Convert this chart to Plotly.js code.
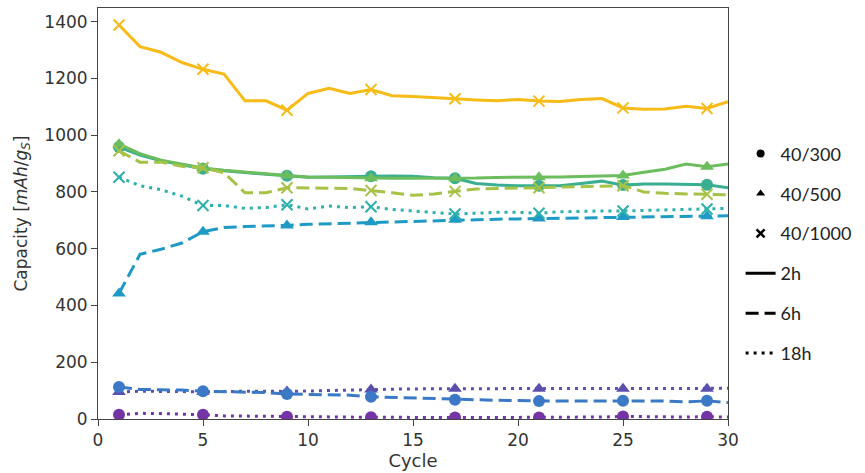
<!DOCTYPE html>
<html>
<head>
<meta charset="utf-8">
<script src="https://cdn.plot.ly/plotly-3.0.1.min.js"></script>
<style>html,body{margin:0;padding:0;background:#fff;}#chart{width:865px;height:473px;}</style>
</head>
<body>
<div id="chart"></div>
<script>
const cycles = [1,2,3,4,5,6,7,8,9,10,11,12,13,14,15,16,17,18,19,20,21,22,23,24,25,26,27,28,29,30];

const s300_18h = [15,20,19,18,15,11,10,9,8,7,7,6,6,6,5,5,5,5,5,5,5,5,6,7,9,8,7,7,8,7];
const s500_18h = [95,98,97,96,96,97,98,98,97,99,100,101,104,105,106,107,107,107,107,107,107,107,107,107,107,107,107,108,107,108];
const s300_6h  = [113,104,103,102,98,96,95,93,88,86,85,84,78,76,74,72,68,67,66,65,63,63,63,63,64,64,63,60,64,58];
const s500_6h  = [442,580,598,620,660,675,678,679,682,686,688,690,693,696,698,700,702,703,704,705,706,708,709,710,712,712,713,713,714,716];
const s1000_18h = [852,822,808,785,752,752,742,745,755,740,750,745,748,738,733,728,722,725,728,728,725,730,732,733,733,735,737,738,740,742];
const s300_2h  = [958,930,910,895,882,875,868,862,857,852,853,855,855,856,855,850,848,830,824,822,822,822,830,838,824,828,828,827,825,815];
const s500_2h  = [968,935,912,897,884,876,869,864,858,853,852,850,848,848,848,848,848,849,851,851,852,853,854,856,858,869,880,898,889,898];
const s1000_6h = [945,905,905,890,885,868,797,797,815,815,813,812,805,797,788,793,802,810,812,814,815,817,818,820,822,800,795,793,792,790];
const s1000_2h = [1388,1312,1292,1256,1232,1215,1121,1121,1088,1147,1165,1147,1161,1139,1136,1131,1128,1124,1121,1126,1120,1119,1126,1129,1096,1091,1092,1102,1094,1118];

const series = [
  {y: s300_18h,  color: '#7434a6', sym: 'circle',      dash: 'dot'},
  {y: s500_18h,  color: '#5b4fae', sym: 'triangle-up', dash: 'dot'},
  {y: s300_6h,   color: '#3b78c6', sym: 'circle',      dash: 'dash'},
  {y: s500_6h,   color: '#1e9ac5', sym: 'triangle-up', dash: 'dash'},
  {y: s1000_18h, color: '#2cb0ab', sym: 'x-thin',      dash: 'dot'},
  {y: s300_2h,   color: '#3aae90', sym: 'circle',      dash: 'solid'},
  {y: s500_2h,   color: '#6cbd5d', sym: 'triangle-up', dash: 'solid'},
  {y: s1000_6h,  color: '#a6c247', sym: 'x-thin',      dash: 'dash'},
  {y: s1000_2h,  color: '#f7bb17', sym: 'x-thin',      dash: 'solid'}
];
const dashMap = {solid: 'solid', dash: '13px,6px', dot: '3px,5px'};

const legendMarkers = ['40/300','40/500','40/1000'];
const legendMarkerSyms = ['circle','triangle-up','x-thin'];
const legendLines = ['2h','6h','18h'];
const legendDash = ['solid','dash','dot'];

const traces = [];
series.forEach(s => {
  const isX = s.sym === 'x-thin';
  traces.push({
    x: cycles, y: s.y, type: 'scatter', mode: 'lines+markers',
    showlegend: false, hoverinfo: 'skip',
    line: {color: s.color, width: 3, dash: dashMap[s.dash]},
    marker: {
      symbol: s.sym, color: s.color, opacity: 1,
      size: cycles.map((c, i) => (i % 4 === 0 ? (isX ? 11 : 12) : 0)),
      line: {color: s.color, width: isX ? 2 : 0}
    }
  });
});
legendMarkers.forEach((name, i) => {
  const isX = legendMarkerSyms[i] === 'x-thin';
  traces.push({
    x: [null], y: [null], type: 'scatter', mode: 'markers', name: name,
    legendgroup: 'm' + i,
    marker: {symbol: legendMarkerSyms[i], color: '#000', size: 8, opacity: 1,
             line: {color: '#000', width: isX ? 2.5 : 0}}
  });
});
legendLines.forEach((name, i) => {
  traces.push({
    x: [null], y: [null], type: 'scatter', mode: 'lines', name: name,
    legendgroup: 'l' + i,
    line: {color: '#000', width: 3, dash: dashMap[legendDash[i]]}
  });
});

const layout = {
  width: 865, height: 473,
  margin: {l: 98, r: 135, t: 8, b: 54},
  paper_bgcolor: '#fff', plot_bgcolor: '#fff',
  font: {family: 'DejaVu Sans', size: 17, color: '#333'},
  showlegend: true,
  legend: {
    x: 1.02, xanchor: 'left', y: 0.69, yanchor: 'top',
    font: {family: 'Lato', size: 18, color: '#222'},
    tracegroupgap: 13.5, bgcolor: 'rgba(0,0,0,0)', itemwidth: 30
  },
  xaxis: {
    range: [0, 30], tickmode: 'array', tickvals: [0,5,10,15,20,25,30],
    showgrid: false, zeroline: false, showline: true, mirror: true,
    linecolor: '#444', linewidth: 1, ticks: 'outside', ticklen: 6, tickcolor: '#444',
    title: {text: 'Cycle', font: {size: 18}, standoff: 4}
  },
  yaxis: {
    range: [0, 1448], tickmode: 'array', tickvals: [0,200,400,600,800,1000,1200,1400],
    showgrid: false, zeroline: false, showline: true, mirror: true,
    linecolor: '#444', linewidth: 1, ticks: 'outside', ticklen: 6, tickcolor: '#444',
    title: {text: 'Capacity [<i>mAh</i>/<i>g<sub>S</sub></i>]', font: {size: 17}, standoff: 12}
  }
};

Plotly.newPlot('chart', traces, layout, {displayModeBar: false, staticPlot: true});
</script>
</body>
</html>
